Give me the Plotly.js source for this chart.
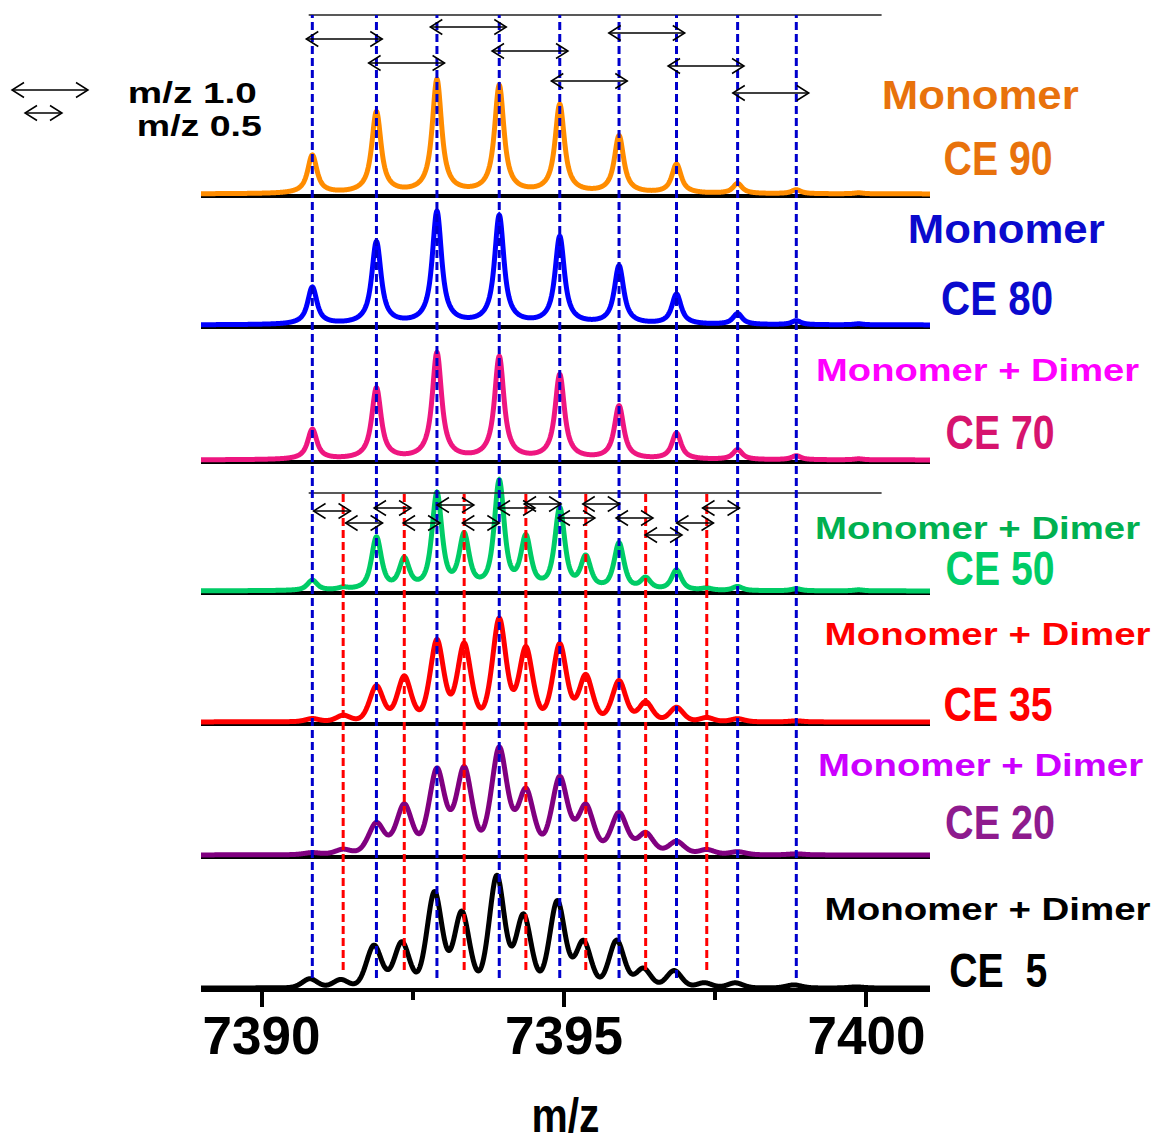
<!DOCTYPE html>
<html><head><meta charset="utf-8">
<script src="https://cdn.plot.ly/plotly-3.0.1.min.js"></script>
<style>html,body{margin:0;padding:0;background:#fff}</style>
</head><body><div id="chart" style="width:1157px;height:1142px"></div>
<script>
// ---------------- DATA ----------------
// isotope peak centroids (m/z)
const monoMz  = [7390.84, 7391.90, 7392.90, 7393.93, 7394.93, 7395.91, 7396.86, 7397.87, 7398.84, 7399.87];
const dimerMz = [7391.35, 7392.36, 7393.35, 7394.37, 7395.36, 7396.35, 7397.36];
const blueLineMz = [7390.84, 7391.90, 7392.90, 7393.93, 7394.93, 7395.91, 7396.86, 7397.87, 7398.84];
const redLineMz  = [7391.35, 7392.36, 7393.35, 7394.37, 7395.36, 7396.35, 7397.36];

const ceLabels      = ['CE 90', 'CE 80', 'CE 70', 'CE 50', 'CE 35', 'CE 20', 'CE  5'];
const speciesLabels = ['Monomer', 'Monomer', 'Monomer + Dimer', 'Monomer + Dimer', 'Monomer + Dimer', 'Monomer + Dimer', 'Monomer + Dimer'];

// peak intensities (arbitrary units)
const mono_CE90  = [38, 81, 113, 107, 88, 57, 29, 10, 4, 1];
const dimer_CE90 = [0, 0, 0, 0, 0, 0, 0];
const mono_CE80  = [37, 82, 112, 108, 87, 58, 30, 11, 4, 1];
const dimer_CE80 = [0, 0, 0, 0, 0, 0, 0];
const mono_CE70  = [30, 71, 106, 102, 84, 53, 26, 10, 4, 1];
const dimer_CE70 = [0, 0, 0, 0, 0, 0, 0];
const mono_CE50  = [10, 52, 95, 107, 80, 46, 20, 4, 2, 1];
const dimer_CE50 = [2, 29, 52, 50, 31, 11, 2];
const mono_CE35  = [3, 35, 80, 101, 76, 40, 14, 3, 1, 0];
const dimer_CE35 = [6, 44, 76, 72, 45, 19, 4];
const mono_CE20  = [2, 31, 84, 105, 76, 41, 13, 3, 1, 0];
const dimer_CE20 = [5, 49, 85, 63, 48, 21, 5];
const mono_CE5   = [9, 42, 95, 111, 86, 47, 17, 5, 3, 1];
const dimer_CE5  = [8, 45, 75, 72, 46, 19, 5];

const tickVals = [7390, 7395, 7400];
const tickText = ['7390', '7395', '7400'];

// arrows: m/z 1.0 spacing (top) and m/z 0.5 spacing (CE 50 panel)
const arrow1Start = [7390.74, 7391.77, 7392.79, 7393.81, 7394.79, 7395.74, 7396.72, 7397.79];
const arrow1Row   = [951, 927, 963, 939, 909, 957, 924, 897];
const arrow05Start = [7390.86, 7391.39, 7391.86, 7392.34, 7392.90, 7393.32, 7393.91, 7394.34, 7394.90, 7395.31, 7395.86, 7396.34, 7396.86, 7397.29];
const arrow05Row   = [479, 467, 482, 467, 485, 467, 482, 486, 472, 486, 472, 455, 467, 482];

// ---------------- STYLE / LAYOUT ----------------
const monoSets  = [mono_CE90, mono_CE80, mono_CE70, mono_CE50, mono_CE35, mono_CE20, mono_CE5];
const dimerSets = [dimer_CE90, dimer_CE80, dimer_CE70, dimer_CE50, dimer_CE35, dimer_CE20, dimer_CE5];
const baseOffset = [794, 663, 528, 397, 266, 133, 0];
const lineColors = ['#FF8C00', '#0000FF', '#EE1680', '#00CC66', '#FF0000', '#800080', '#000000'];
const speciesColors = ['#E8720C', '#0A0ACD', '#FF00FF', '#00B050', '#FF0000', '#CC00FF', '#000000'];
const ceColors = ['#E8720C', '#0A0ACD', '#D6146E', '#00CC66', '#FF0000', '#8E1B8E', '#000000'];
// peak shape (pseudo-Voigt) per spectrum: gaussian sigma, lorentz gamma (Da), lorentz fraction
const shapeSigma = [0.06, 0.06, 0.06, 0.08, 0.118, 0.14, 0.13];
const shapeGamma = [0.10, 0.10, 0.10, 0.10, 0.11, 0.12, 0.11];
const shapeEta   = [0.85, 0.85, 0.85, 0.7, 0.3, 0.25, 0.15];
const shift = [0, 0, 0, 0, 0, 0, -0.04];

const speciesPos = [[980, 95], [1006, 229], [977, 370], [977, 528], [987, 634], [980, 765], [987, 909]];
const speciesWidth = [197, 197, 323, 325, 326, 325, 326];
const cePos = [[998, 158], [997, 298], [1000, 432], [1000, 568], [998, 704], [1000, 822], [999, 970]];
const ceWidth = [109, 112, 109, 109, 109, 110, 98];

const FONT = 'Liberation Sans, Arial, Helvetica, sans-serif';
const X0 = 7389.0, X1 = 7401.05;
const pxX = px => (px - 201) / 729;
const pyY = py => (988 - py) / 988;
const pxPerDa = 729 / (X1 - X0);

// ---------------- TRACES ----------------
const grid = [];
for (let i = 0; i <= 2410; i++) grid.push(X0 + i * 0.005);

function pv(d, s, g, e) {
  return (1 - e) * Math.exp(-d * d / (2 * s * s)) + e * g * g / (d * d + g * g);
}

const traces = [];
for (let k = 6; k >= 0; k--) {
  const y = grid.map(x => {
    let v = 0;
    monoMz.forEach((c, i) => { v += monoSets[k][i] * pv(x - c - shift[k], shapeSigma[k], shapeGamma[k], shapeEta[k]); });
    dimerMz.forEach((c, i) => { v += dimerSets[k][i] * pv(x - c - shift[k], shapeSigma[k], shapeGamma[k], shapeEta[k]); });
    return baseOffset[k] + 2 + v;
  });
  traces.push({
    x: grid, y: y, type: 'scatter', mode: 'lines',
    line: { color: lineColors[k], width: 5, simplify: false },
    hoverinfo: 'skip', name: ceLabels[k]
  });
}

// ---------------- SHAPES ----------------
const shapes = [];
baseOffset.forEach((b, k) => {
  if (k === 6) return;
  shapes.push({ type: 'line', xref: 'paper', yref: 'y', x0: 0, x1: 1, y0: b, y1: b,
    line: { color: '#000', width: 4 }, layer: 'below' });
});
[975, 497].forEach(yv => shapes.push({ type: 'line', xref: 'x', yref: 'y', x0: 7390.78, x1: 7400.25, y0: yv, y1: yv,
  line: { color: '#222', width: 1.5 } }));
blueLineMz.forEach(m => shapes.push({ type: 'line', xref: 'x', yref: 'y', x0: m, x1: m, y0: 12, y1: 975,
  line: { color: '#0000CC', width: 3, dash: '8px,4px' } }));
redLineMz.forEach(m => shapes.push({ type: 'line', xref: 'x', yref: 'y', x0: m, x1: m, y0: 20, y1: 497,
  line: { color: '#FF0000', width: 3, dash: '8px,4px' } }));

function dblArrow(xs, xe, y, dx, dy, xref, yref) {
  const st = { color: '#000', width: 1.5 };
  shapes.push({ type: 'line', xref, yref, x0: xs, x1: xe, y0: y, y1: y, line: st });
  shapes.push({ type: 'path', xref, yref, line: st,
    path: `M ${xs + dx},${y + dy} L ${xs},${y} L ${xs + dx},${y - dy}` });
  shapes.push({ type: 'path', xref, yref, line: st,
    path: `M ${xe - dx},${y + dy} L ${xe},${y} L ${xe - dx},${y - dy}` });
}
const dxDa = 12 / pxPerDa;
arrow1Start.forEach((s, i) => dblArrow(s, s + 76 / pxPerDa, arrow1Row[i], dxDa, 7.5, 'x', 'y'));
arrow05Start.forEach((s, i) => dblArrow(s, s + 37 / pxPerDa, arrow05Row[i], dxDa, 7.5, 'x', 'y'));
dblArrow(pxX(12), pxX(88), pyY(90), 12 / 729, 7.5 / 988, 'paper', 'paper');
dblArrow(pxX(25), pxX(62), pyY(113), 12 / 729, 7.5 / 988, 'paper', 'paper');

// ---------------- ANNOTATIONS ----------------
const annotations = [];
const textLengths = [];
speciesLabels.forEach((t, k) => {
  annotations.push({
    text: t, xref: 'paper', yref: 'paper', x: pxX(speciesPos[k][0]), y: pyY(speciesPos[k][1]),
    xanchor: 'center', yanchor: 'middle', showarrow: false,
    font: { family: FONT, size: t === 'Monomer' ? 41 : 32, color: speciesColors[k], weight: 'bold' }
  });
  textLengths.push(speciesWidth[k]);
});
ceLabels.forEach((t, k) => {
  annotations.push({
    text: t.replace('  ', '\u00a0 '), xref: 'paper', yref: 'paper', x: pxX(cePos[k][0]), y: pyY(cePos[k][1]),
    xanchor: 'center', yanchor: 'middle', showarrow: false,
    font: { family: FONT, size: 49, color: ceColors[k], weight: 'bold' }
  });
  textLengths.push(ceWidth[k]);
});
annotations.push({ text: 'm/z 1.0', xref: 'paper', yref: 'paper', x: pxX(192), y: pyY(93),
  xanchor: 'center', yanchor: 'middle', showarrow: false, font: { family: FONT, size: 29, color: '#000', weight: 'bold' } });
textLengths.push(129);
annotations.push({ text: 'm/z 0.5', xref: 'paper', yref: 'paper', x: pxX(199), y: pyY(126),
  xanchor: 'center', yanchor: 'middle', showarrow: false, font: { family: FONT, size: 29, color: '#000', weight: 'bold' } });
textLengths.push(125);

const layout = {
  width: 1157, height: 1142,
  margin: { l: 201, r: 227, t: 0, b: 154 },
  paper_bgcolor: '#fff', plot_bgcolor: '#fff',
  showlegend: false,
  xaxis: {
    range: [X0, X1], showgrid: false, zeroline: false,
    showline: true, linecolor: '#000', linewidth: 4,
    ticks: 'outside', ticklen: 15, tickwidth: 4, tickcolor: '#000',
    tickvals: tickVals, ticktext: tickText, ticklabelstandoff: -17,
    tickfont: { family: FONT, size: 53, color: '#000', weight: 'bold' },
    minor: { tick0: 7390, dtick: 2.5, ticks: 'outside', ticklen: 8, tickwidth: 4, tickcolor: '#000' },
    title: { text: 'm/z', font: { family: FONT, size: 48, color: '#000', weight: 'bold' }, standoff: 46 },
    fixedrange: true
  },
  yaxis: { range: [2, 990], visible: false, fixedrange: true },
  shapes: shapes,
  annotations: annotations
};

Plotly.newPlot('chart', traces, layout, { displayModeBar: false, staticPlot: true }).then(gd => {
  // squeeze / stretch label glyphs to the widths seen in the reference
  gd.querySelectorAll('g.annotation').forEach(g => {
    const idx = +g.getAttribute('data-index');
    const t = g.querySelector('text.annotation-text');
    if (t && textLengths[idx]) {
      t.setAttribute('textLength', textLengths[idx]);
      t.setAttribute('lengthAdjust', 'spacingAndGlyphs');
    }
  });
  const xt = gd.querySelector('.g-xtitle text');
  if (xt) { xt.setAttribute('textLength', 68); xt.setAttribute('lengthAdjust', 'spacingAndGlyphs'); }
});
</script>
</body></html>
